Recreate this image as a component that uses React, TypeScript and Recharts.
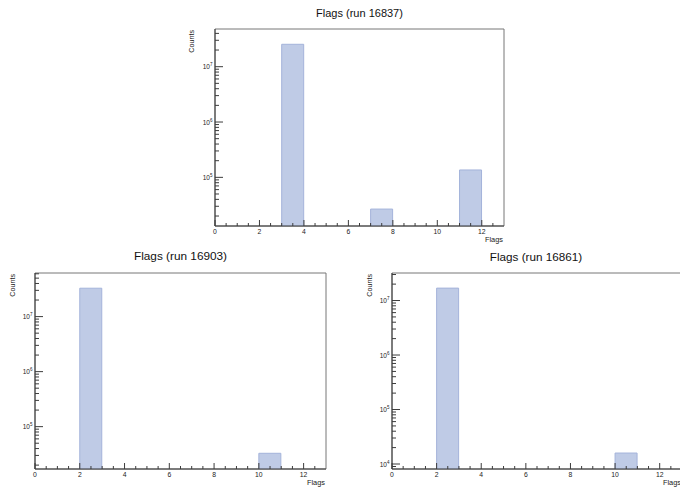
import React from "react";
import { BarChart, Bar, XAxis, YAxis, ReferenceArea } from "recharts";

const FONT = "'Liberation Sans', Arial, Helvetica, sans-serif";

// histogram bins: flag values 0..13, one unit wide
const binCentres = [0.5, 1.5, 2.5, 3.5, 4.5, 5.5, 6.5, 7.5, 8.5, 9.5, 10.5, 11.5, 12.5];

const countsRun16837 = [null, null, null, 2.54e7, null, null, null, 2.67e4, null, null, null, 1.36e5, null];
const countsRun16903 = [null, null, 3.28e7, null, null, null, null, null, null, null, 3.28e4, null, null];
const countsRun16861 = [null, null, 1.69e7, null, null, null, null, null, null, null, 1.59e4, null, null];

const xTickValues = [0, 0.5, 1, 1.5, 2, 2.5, 3, 3.5, 4, 4.5, 5, 5.5, 6, 6.5, 7, 7.5, 8, 8.5, 9, 9.5, 10, 10.5, 11, 11.5, 12, 12.5];
const xLabelledTicks = [0, 2, 4, 6, 8, 10, 12];

const BAR_FILL = "#bfcbe6";
const BAR_EDGE = "#a4b3da";
const AXIS = "#3c3c3c";

function logTicks(lo: number, hi: number): number[] {
  const out: number[] = [];
  for (let e = Math.floor(Math.log10(lo)); e <= Math.ceil(Math.log10(hi)); e++) {
    for (let m = 1; m <= 9; m++) {
      const v = m * Math.pow(10, e);
      if (v >= lo && v <= hi) out.push(v);
    }
  }
  return out;
}

const XTick = (props: any) => {
  const { x, y, payload } = props;
  const v = payload.value;
  const major = xLabelledTicks.includes(v);
  return (
    <g>
      <line x1={x} x2={x} y1={y} y2={y - (major ? 6 : 3)} stroke={AXIS} strokeWidth={1} />
      {major && (
        <text x={x} y={y + 8} textAnchor="middle" fontSize={6.8} fill="#222" fontFamily={FONT}>
          {v}
        </text>
      )}
    </g>
  );
};

const YTick = (props: any) => {
  const { x, y, payload } = props;
  const v = payload.value;
  const exp = Math.round(Math.log10(v));
  const major = Math.abs(v - Math.pow(10, exp)) < 1e-6 * v;
  return (
    <g>
      <line x1={x} x2={x + (major ? 8 : 4)} y1={y} y2={y} stroke={AXIS} strokeWidth={1} />
      {major && (
        <text x={x - 2.5} y={y + 2.5} textAnchor="end" fontSize={6.5} fill="#222" fontFamily={FONT}>
          10<tspan dy={-3} fontSize={4.5}>{exp}</tspan>
        </text>
      )}
    </g>
  );
};

interface PanelProps {
  title: string;
  counts: (number | null)[];
  yDomain: [number, number];
  left: number;
  top: number;
  right: number;
  bottom: number;
  chartWidth: number;
  titleY: number;
  titleSize: number;
  countsX: number;
}

function Panel(p: PanelProps) {
  const data = binCentres.map((c, i) => ({ x: c, counts: p.counts[i] }));
  const cx = (p.left + Math.min(p.right, 680)) / 2;
  return (
    <div style={{ position: "absolute", left: 0, top: 0 }}>
      <BarChart
        width={p.chartWidth}
        height={488}
        data={data}
        barCategoryGap={0}
        barGap={0}
        // axes take 1px each, so the plot frame lands on left/top/right/bottom
        margin={{ top: p.top, left: p.left - 1, right: p.chartWidth - p.right, bottom: 488 - p.bottom - 1 }}
      >
        <XAxis
          dataKey="x"
          type="number"
          domain={[0, 13]}
          ticks={xTickValues}
          interval={0}
          height={1}
          tickSize={0}
          tickMargin={0}
          tickLine={false}
          tick={<XTick />}
          axisLine={{ stroke: AXIS }}
          allowDataOverflow
        />
        <YAxis
          type="number"
          scale="log"
          domain={p.yDomain}
          ticks={logTicks(p.yDomain[0], p.yDomain[1])}
          interval={0}
          width={1}
          tickSize={0}
          tickMargin={0}
          tickLine={false}
          tick={<YTick />}
          axisLine={{ stroke: AXIS }}
          allowDataOverflow
        />
        <Bar dataKey="counts" fill={BAR_FILL} stroke={BAR_EDGE} strokeWidth={1} isAnimationActive={false} />
        <ReferenceArea
          x1={0}
          x2={13}
          y1={p.yDomain[0]}
          y2={p.yDomain[1]}
          fill="none"
          stroke="#777"
          strokeWidth={1}
          ifOverflow="visible"
        />
      </BarChart>
      <svg
        width={680}
        height={488}
        style={{ position: "absolute", left: 0, top: 0, pointerEvents: "none" }}
        fontFamily={FONT}
      >
        <text x={cx} y={p.titleY} textAnchor="middle" fontSize={p.titleSize} fill="#111">
          {p.title}
        </text>
        <text
          x={p.countsX}
          y={p.top + 1}
          textAnchor="end"
          fontSize={7.2}
          fill="#222"
          transform={`rotate(-90, ${p.countsX}, ${p.top + 1})`}
        >
          Counts
        </text>
        <text x={p.right - 1} y={p.bottom + 16} textAnchor="end" fontSize={7.4} fill="#222">
          Flags
        </text>
      </svg>
    </div>
  );
}

export default function App() {
  return (
    <div style={{ position: "absolute", left: 0, top: 0, width: 680, height: 488, overflow: "hidden", background: "#fff" }}>
      <Panel
        title="Flags (run 16837)"
        counts={countsRun16837}
        yDomain={[1.32e4, 4.8e7]}
        left={215}
        top={29}
        right={504}
        bottom={226}
        chartWidth={680}
        titleY={17}
        titleSize={11}
        countsX={194}
      />
      <Panel
        title="Flags (run 16903)"
        counts={countsRun16903}
        yDomain={[1.7e4, 6.2e7]}
        left={35}
        top={273}
        right={326}
        bottom={469}
        chartWidth={680}
        titleY={260}
        titleSize={11.8}
        countsX={15}
      />
      <Panel
        title="Flags (run 16861)"
        counts={countsRun16861}
        yDomain={[8.1e3, 3.2e7]}
        left={392}
        top={273}
        right={682}
        bottom={469}
        chartWidth={700}
        titleY={261}
        titleSize={11.7}
        countsX={372}
      />
    </div>
  );
}
